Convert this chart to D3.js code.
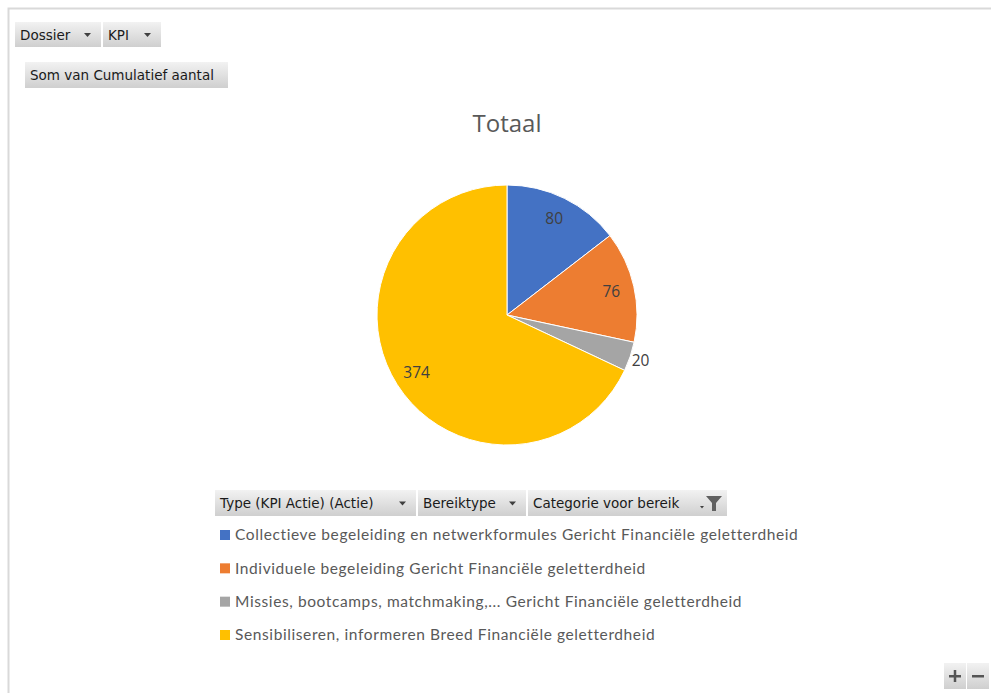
<!DOCTYPE html>
<html>
<head>
<meta charset="utf-8">
<script src="https://cdn.jsdelivr.net/npm/d3@7"></script>
<style>
  html, body { margin: 0; padding: 0; background: #ffffff; }
  svg { display: block; }
</style>
</head>
<body>
<svg id="chart" width="991" height="693"></svg>
<script>
// Pivot chart data: cumulative count per action type
const categories = [
  "Collectieve begeleiding en netwerkformules Gericht Financiële geletterdheid",
  "Individuele begeleiding Gericht Financiële geletterdheid",
  "Missies, bootcamps, matchmaking,... Gericht Financiële geletterdheid",
  "Sensibiliseren, informeren Breed Financiële geletterdheid"
];
const values = [80, 76, 20, 374];
const colors = ["#4472C4", "#ED7D31", "#A5A5A5", "#FFC000"];
const chartTitle = "Totaal";
const topFields = ["Dossier", "KPI"];
const valueField = "Som van Cumulatief aantal";
const legendFields = ["Type (KPI Actie) (Actie)", "Bereiktype", "Categorie voor bereik"];

const svg = d3.select("#chart");
const uiFont = "'DejaVu Sans', Tahoma, sans-serif";
const chartFont = "'Open Sans', Lato, sans-serif";
const legendFont = "Lato, 'Open Sans', sans-serif";

// Gradient for pivot field buttons
const defs = svg.append("defs");
const grad = defs.append("linearGradient").attr("id", "btnGrad")
  .attr("x1", 0).attr("y1", 0).attr("x2", 0).attr("y2", 1);
grad.append("stop").attr("offset", "0%").attr("stop-color", "#f2f2f2");
grad.append("stop").attr("offset", "100%").attr("stop-color", "#cfcfcf");

// Chart area frame
svg.append("rect")
  .attr("x", 8.5).attr("y", 8.5).attr("width", 990).attr("height", 700)
  .attr("fill", "none").attr("stroke", "#d9d9d9").attr("stroke-width", 2);

// Field button helper
function fieldButton(x, y, w, h, label, icon) {
  const g = svg.append("g").attr("transform", `translate(${x},${y})`);
  g.append("rect").attr("width", w).attr("height", h).attr("fill", "url(#btnGrad)");
  g.append("text").attr("x", 5).attr("y", h / 2 + 5)
    .attr("font-family", uiFont).attr("font-size", 13.5).attr("fill", "#1a1a1a")
    .text(label);
  if (icon === "arrow") {
    g.append("path")
      .attr("d", `M${w - 17},${h / 2 - 1.5} l7,0 l-3.5,4 z`)
      .attr("fill", "#404040");
  } else if (icon === "filter") {
    g.append("path")
      .attr("d", `M${w - 27},${h / 2 + 3} l4,0 l-2,2.5 z`)
      .attr("fill", "#404040");
    g.append("path")
      .attr("d", `M${w - 21},${h / 2 - 7} l16,0 l-6,7 l0,8 l-4,0 l0,-8 z`)
      .attr("fill", "#606060");
  }
  return g;
}

fieldButton(15, 22, 86, 25, topFields[0], "arrow");
fieldButton(103, 22, 58, 25, topFields[1], "arrow");
fieldButton(25, 62, 203, 26, valueField, null);

// Title
svg.append("text")
  .attr("x", 507).attr("y", 132)
  .attr("text-anchor", "middle")
  .attr("font-family", chartFont).attr("font-size", 24)
  .attr("fill", "#595959")
  .text(chartTitle);

// Pie
const cx = 507, cy = 315, radius = 130;
const pie = d3.pie().sort(null).value(d => d)(values);
const arc = d3.arc().innerRadius(0).outerRadius(radius);
const labelArc = d3.arc().innerRadius(107).outerRadius(107);
const outerLabelArc = d3.arc().innerRadius(141).outerRadius(141);

const pg = svg.append("g").attr("transform", `translate(${cx},${cy})`);
pg.selectAll("path.slice").data(pie).join("path")
  .attr("class", "slice")
  .attr("d", arc)
  .attr("fill", (d, i) => colors[i])
  .attr("stroke", "#ffffff").attr("stroke-width", 1);

// Data labels: inside for large slices, just outside for narrow ones
pg.selectAll("text.lbl").data(pie).join("text")
  .attr("class", "lbl")
  .attr("transform", d => {
    const small = (d.endAngle - d.startAngle) < 0.3;
    const c = (small ? outerLabelArc : labelArc).centroid(d);
    return `translate(${c[0]},${c[1]})`;
  })
  .attr("dy", "0.35em")
  .attr("text-anchor", "middle")
  .attr("font-family", chartFont).attr("font-size", 15.5)
  .attr("fill", "#404040")
  .text(d => d.data);

// Legend field buttons
fieldButton(215, 490, 201, 26, legendFields[0], "arrow");
fieldButton(418, 490, 108, 26, legendFields[1], "arrow");
fieldButton(528, 490, 199, 26, legendFields[2], "filter");

// Legend entries
const ly = d3.scalePoint().domain(d3.range(categories.length)).range([535, 635]);
const lg = svg.append("g");
const item = lg.selectAll("g").data(categories).join("g")
  .attr("transform", (d, i) => `translate(220,${ly(i)})`);
item.append("rect").attr("x", 0).attr("y", -5).attr("width", 10).attr("height", 10)
  .attr("fill", (d, i) => colors[i]);
item.append("text").attr("x", 15).attr("y", 0).attr("dy", "0.35em")
  .attr("font-family", legendFont).attr("font-size", 15.5)
  .attr("letter-spacing", 0.6)
  .attr("fill", "#595959")
  .text(d => d);

// Zoom buttons
function zoomButton(x, y, sign) {
  const g = svg.append("g").attr("transform", `translate(${x},${y})`);
  g.append("rect").attr("width", 22).attr("height", 26).attr("fill", "url(#btnGrad)");
  g.append("rect").attr("x", 5).attr("y", 12).attr("width", 12).attr("height", 2.5).attr("fill", "#555");
  if (sign === "+") {
    g.append("rect").attr("x", 9.75).attr("y", 7).attr("width", 2.5).attr("height", 12).attr("fill", "#555");
  }
}
zoomButton(944, 663, "+");
zoomButton(967, 663, "-");
</script>
</body>
</html>
